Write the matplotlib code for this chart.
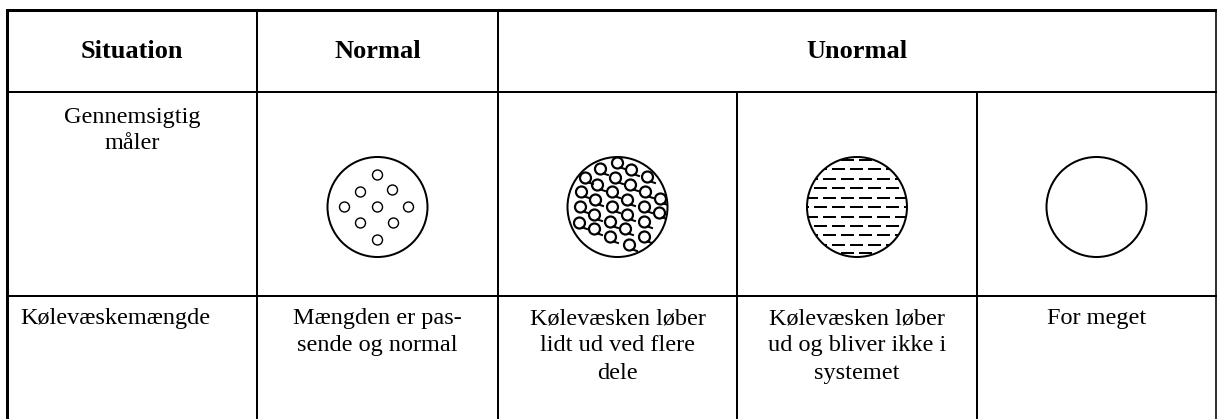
import matplotlib
matplotlib.use("Agg")
import matplotlib.pyplot as plt
from matplotlib.patches import Circle

# ---- table structure (pixel grid of the reference) ----
W, H = 1217, 419
col_edges = [7, 257, 498, 737, 977, 1216]
row_edges = [10, 92, 296, 419]

# ---- text content ----
header_labels = ["Situation", "Normal", "Unormal"]
row1_label = "Gennemsigtig\nmåler"
row2_labels = [
    "Kølevæskemængde",
    "Mængden er pas-\nsende og normal",
    "Kølevæsken løber\nlidt ud ved flere\ndele",
    "Kølevæsken løber\nud og bliver ikke i\nsystemet",
    "For meget",
]

# ---- gauge pictograms ----
gauge_kinds = ["dots", "bubbles", "dashes", "empty"]
gauge_radius = 50
gauge_cy = 207

normal_dot_dx = [0, -17, 15, -33, 0, 31, -17, 16, 0]
normal_dot_dy = [-32, -15, -17, 0, 0, 0, 16, 16, 33]

bubble_dx = [0, -17, -32, 14, 30, -2, -20, 13, -36, -5, 28, -22, 10, 43,
             -37, -5, 27, -23, 10, 42, -38, -7, 27, -23, 8, -7, 27, 12]
bubble_dy = [-44, -38, -29, -37, -30, -29, -22, -22, -15, -15, -15, -7, -7, -8,
             0, 0, 0, 8, 8, 6, 16, 15, 15, 22, 22, 30, 30, 38]

dash_rows_dy = [-47, -38, -28, -19, -9, 0, 10, 19, 28, 38, 46]

FONT = ["Liberation Serif", "DejaVu Serif"]

fig = plt.figure(figsize=(W / 100, H / 100), dpi=100)
ax = fig.add_axes([0, 0, 1, 1])
ax.set_xlim(0, W)
ax.set_ylim(H, 0)
ax.axis("off")

px = 0.72  # points per pixel at dpi 100

# ---- grid lines ----
x0, x1 = col_edges[0], col_edges[-1]
ax.plot([x0, x1], [row_edges[0], row_edges[0]], color="black", lw=3 * px,
        solid_capstyle="projecting")
for y in row_edges[1:3]:
    ax.plot([x0, x1], [y, y], color="black", lw=2 * px)
ax.plot([x0, x0], [row_edges[0], H + 2], color="black", lw=3 * px)
ax.plot([x1, x1], [row_edges[0], H + 2], color="black", lw=1.6 * px)
for i, x in enumerate(col_edges[1:-1], start=1):
    ytop = row_edges[0] if i <= 2 else row_edges[1]
    ax.plot([x, x], [ytop, H + 2], color="black", lw=2 * px)

# ---- header ----
hy = (row_edges[0] + row_edges[1]) / 2
hx = [(col_edges[0] + col_edges[1]) / 2,
      (col_edges[1] + col_edges[2]) / 2,
      (col_edges[2] + col_edges[5]) / 2]
for x, lab in zip(hx, header_labels):
    ax.text(x, hy, lab, ha="center", va="center", fontsize=19,
            fontweight="bold", family=FONT)

# ---- row 1 ----
ax.text((col_edges[0] + col_edges[1]) / 2, row_edges[1] + 15, row1_label,
        ha="center", va="top", fontsize=17.5, family=FONT, linespacing=1.3)

for k, kind in enumerate(gauge_kinds):
    cx = (col_edges[k + 1] + col_edges[k + 2]) / 2
    outer = Circle((cx, gauge_cy), gauge_radius, fill=False, ec="black",
                   lw=2 * px, zorder=3)
    ax.add_patch(outer)
    clip = Circle((cx, gauge_cy), gauge_radius, transform=ax.transData)
    if kind == "dots":
        for dx, dy in zip(normal_dot_dx, normal_dot_dy):
            ax.add_patch(Circle((cx + dx, gauge_cy + dy), 5, fill=False,
                                ec="black", lw=1.4 * px))
    elif kind == "bubbles":
        for dx, dy in zip(bubble_dx, bubble_dy):
            c = Circle((cx + dx, gauge_cy + dy), 5.5, fill=False, ec="black",
                       lw=2.2 * px)
            ax.add_patch(c)
            c.set_clip_path(clip)
            ln, = ax.plot([cx + dx + 3, cx + dx + 7.5],
                          [gauge_cy + dy + 4.5, gauge_cy + dy + 6],
                          color="black", lw=2 * px)
            ln.set_clip_path(clip)
    elif kind == "dashes":
        lw = 2 * px
        for j, dy in enumerate(dash_rows_dy):
            off = 0 if j % 2 == 0 else 9
            ln, = ax.plot([cx - gauge_radius - 20 + off, cx + gauge_radius + 20],
                          [gauge_cy + dy, gauge_cy + dy], color="black", lw=lw)
            ln.set_dashes((13 * px / lw, 5 * px / lw))
            ln.set_clip_path(clip)

# ---- row 2 ----
ty = row_edges[2] + 12
ax.text(col_edges[0] + 13, ty, row2_labels[0], ha="left", va="top",
        fontsize=17.5, family=FONT)
for k in range(1, 5):
    cx = (col_edges[k] + col_edges[k + 1]) / 2
    ax.text(cx, ty, row2_labels[k], ha="center", va="top", fontsize=17.5,
            family=FONT, linespacing=1.4)

fig.savefig("out.png", dpi=100)
